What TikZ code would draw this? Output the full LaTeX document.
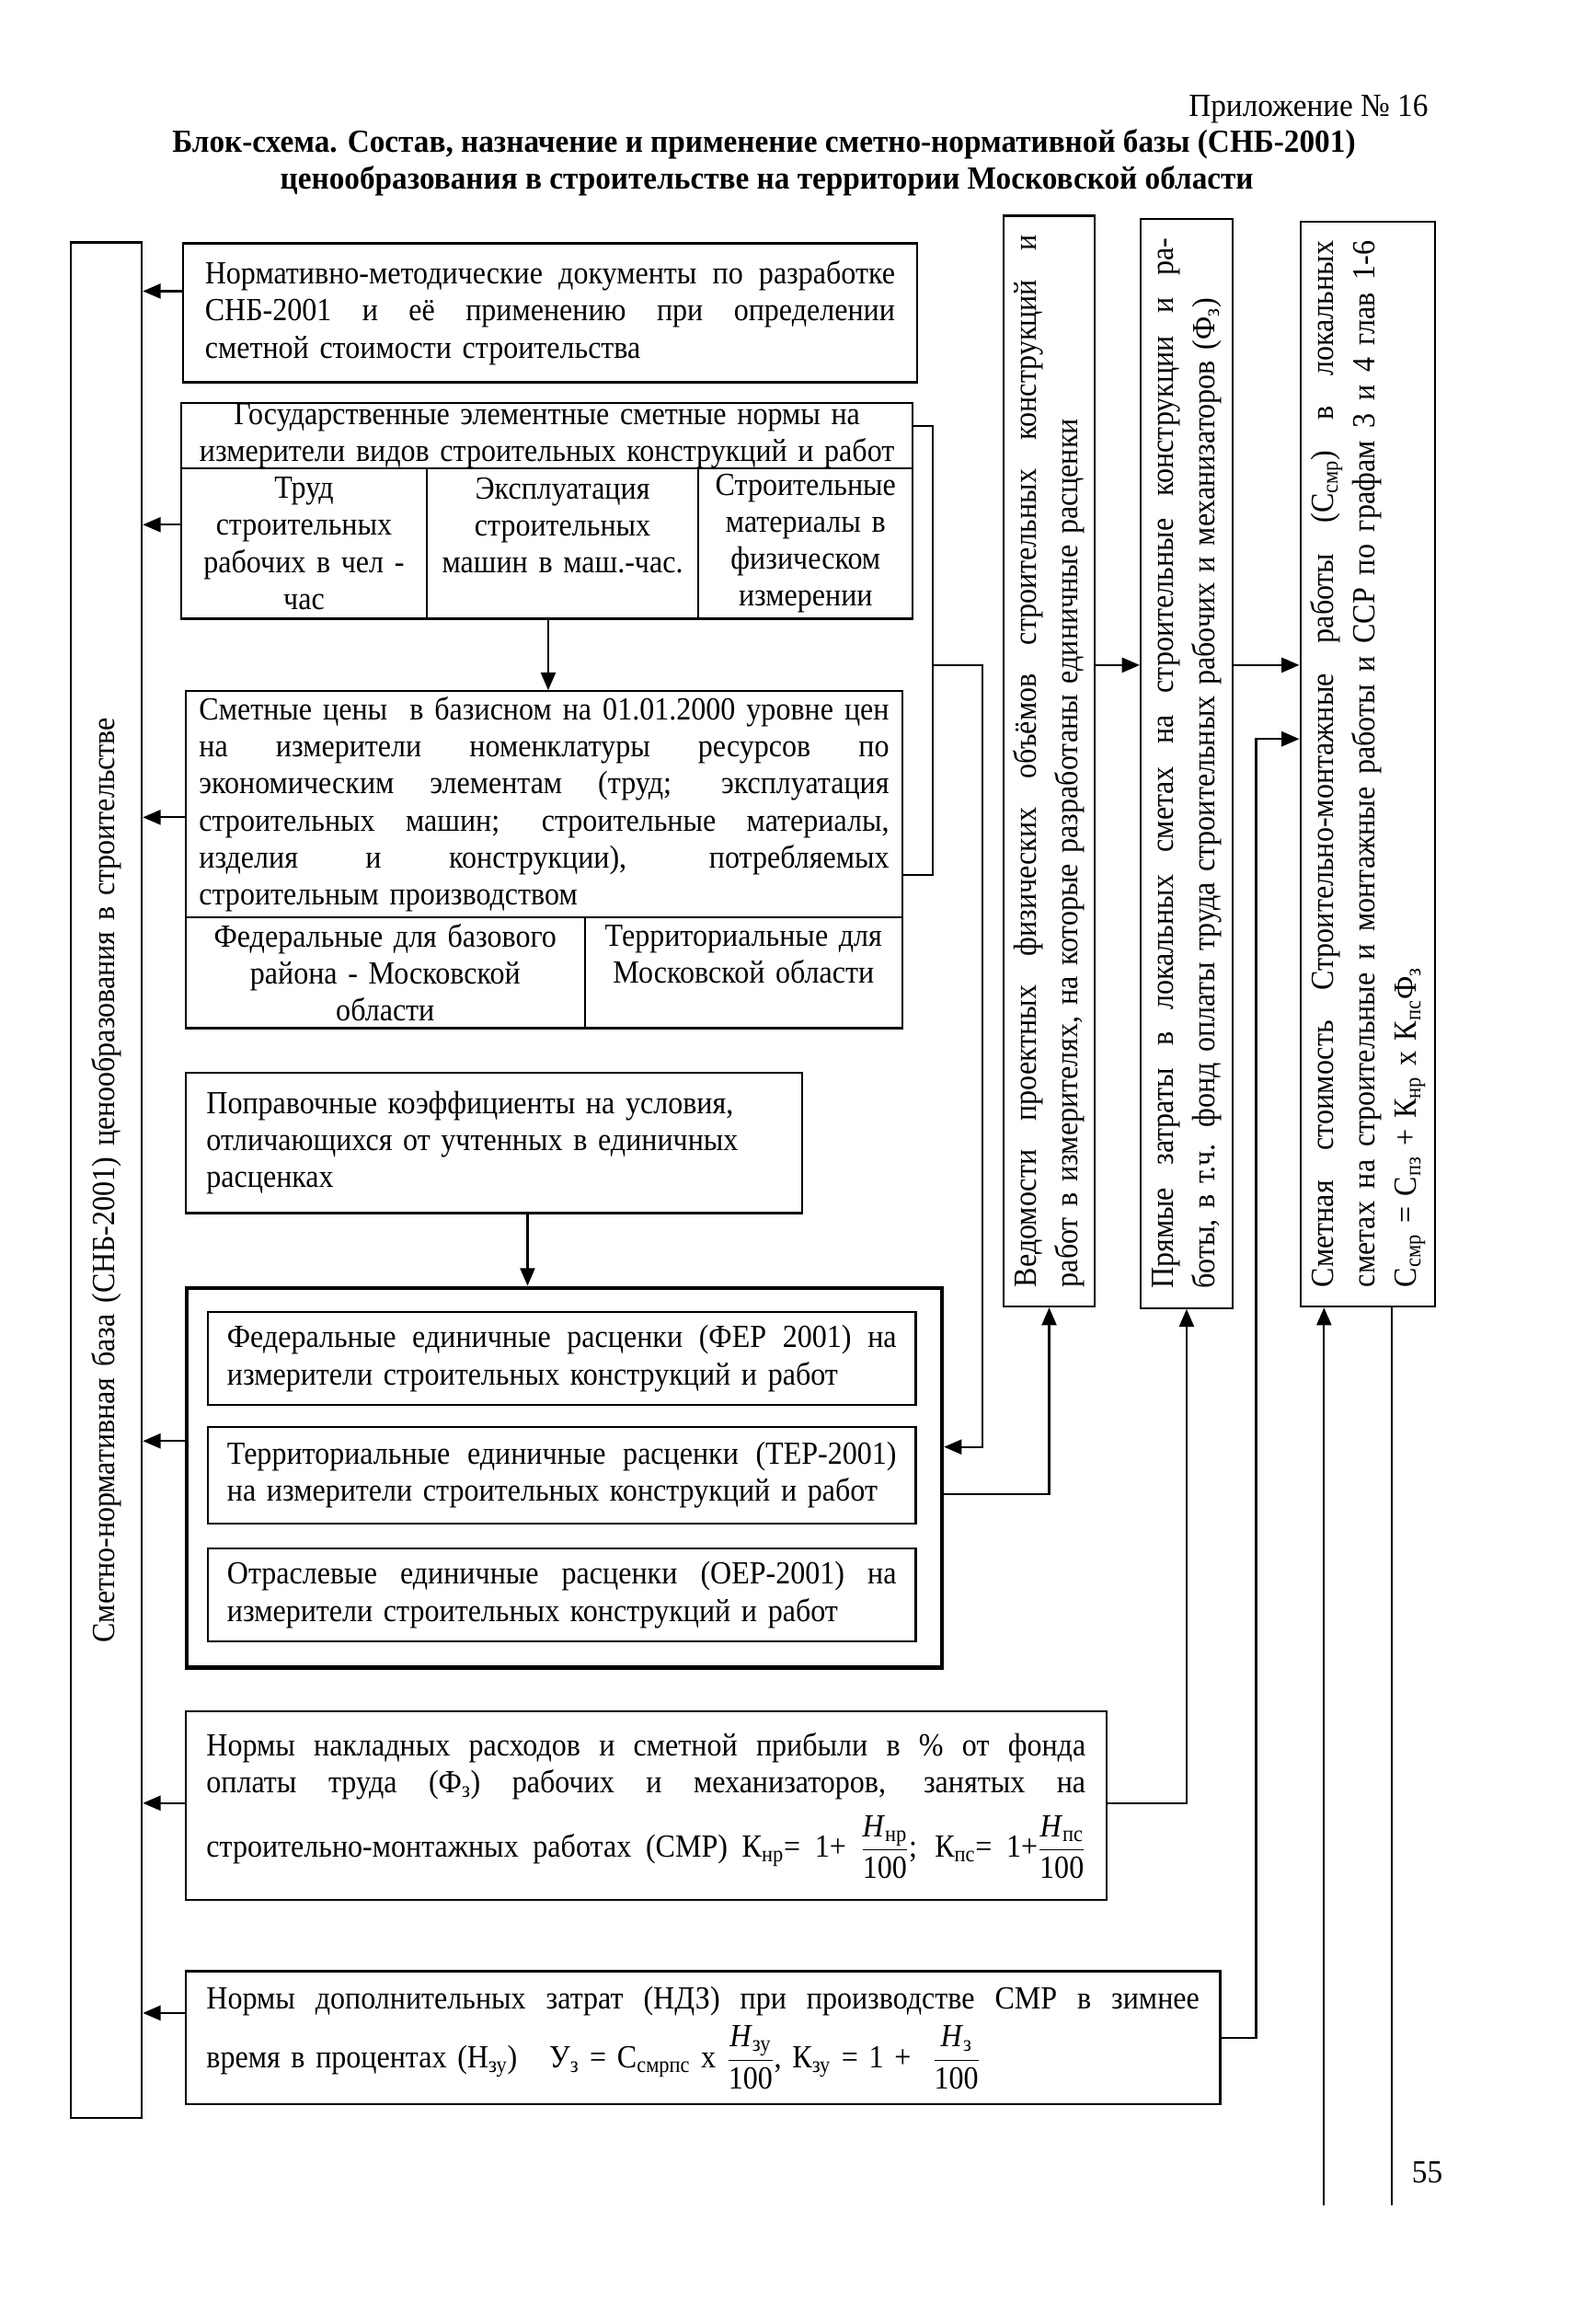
\documentclass[tikz,border=0pt]{standalone}
\usepackage{fontspec}
\setmainfont{Liberation Serif}[FakeStretch=0.915]
\newfontfamily\titlefont{Liberation Serif}[FakeStretch=0.95]
\usetikzlibrary{arrows.meta}
\newcommand{\tx}{\fontsize{21.8}{25}\selectfont}
\newcommand{\tc}{\fontsize{21.8}{28}\selectfont}
\newcommand{\jl}[2]{\leavevmode\hbox to #1{\spaceskip=0.25em plus 1fil\relax #2}}
\newcommand{\sbs}[1]{\textsubscript{#1}}
\newcommand{\fr}[2]{$\displaystyle\frac{\mbox{#1}}{\mbox{#2}}$}
\tikzset{
  ln/.style={line width=1.4pt},
  arr/.style={ln, -{Triangle[length=12pt,width=10pt]}},
  box/.style={draw, ln, anchor=north west, inner ysep=0pt, font=\tx, align=left},
  cbox/.style={box, align=center},
  col/.style={draw, ln, rotate=90, inner ysep=0pt, inner xsep=13pt, font=\tc, align=left},
}
\begin{document}
\begin{tikzpicture}[x=1pt,y=-1pt]
\useasboundingbox (0,0) rectangle (1080,1565);
\fill[white] (0,0) rectangle (1080,1565);

% header
\node[font=\tx\titlefont, anchor=base east] (app) at (970,79) {Приложение № 16};
\node[font=\tx\titlefont\bfseries, anchor=base] (t1) at (517,103) {Блок-схема. Состав, назначение и применение сметно-нормативной базы (СНБ-2001)};
\node[font=\tx\titlefont\bfseries, anchor=base] (t2) at (519,128) {ценообразования в строительстве на территории Московской области};

% left column
\node[col, align=center, text width=1243pt, minimum height=48pt, font=\tx] (L) at (72,798.5) {Сметно-нормативная база (СНБ-2001) ценообразования в строительстве};

% box 1
\node[box, text width=467pt, inner xsep=15pt, minimum height=94pt] (b1) at (123,164) {\jl{467pt}{Нормативно-методические документы по разработке}\\\jl{467pt}{СНБ-2001 и её применению при определении}\\сметной стоимости строительства};

% state norms
\node[cbox, text width=491pt, inner xsep=2pt, minimum height=44pt] (g0) at (122,272) {Государственные элементные сметные нормы на\\измерители видов строительных конструкций и работ};
\node[cbox, text width=156pt, inner xsep=5pt, minimum height=102pt] (c1) at (122,316) {Труд\\строительных\\рабочих в чел -\\час};
\node[cbox, text width=174pt, inner xsep=5pt, minimum height=102pt] (c2) at (288,316) {Эксплуатация\\строительных\\машин в маш.-час.\\\mbox{}};
\node[cbox, text width=135pt, inner xsep=5pt, minimum height=102pt] (c3) at (472,316) {Строительные\\материалы в\\физическом\\измерении};

% prices
\node[box, text width=467pt, inner xsep=9pt, minimum height=153pt] (s0) at (125,467) {\jl{467pt}{Сметные цены\ \ в базисном на 01.01.2000 уровне цен}\\\jl{467pt}{на измерители номенклатуры ресурсов по}\\\jl{467pt}{экономическим элементам (труд; эксплуатация}\\\jl{467pt}{строительных машин; строительные материалы,}\\\jl{467pt}{изделия и конструкции), потребляемых}\\строительным производством};
\node[cbox, text width=260pt, inner xsep=5pt, minimum height=75pt] (s1) at (125,620) {Федеральные для базового\\района - Московской\\области};
\node[cbox, text width=205pt, inner xsep=5pt, minimum height=75pt] (s2) at (395,620) {Территориальные для\\Московской области\\\mbox{}};

% correction coefficients
\node[box, text width=389pt, inner xsep=14pt, minimum height=95pt] (p) at (125,725) {Поправочные коэффициенты на условия,\\отличающихся от учтенных в единичных\\расценках};

% unit rates
\node[draw, line width=2.8pt, anchor=north west, inner sep=0pt, minimum width=511pt, minimum height=257pt] (B) at (125,870) {};
\node[box, text width=453pt, inner xsep=13pt, minimum height=63pt] (f1) at (140,887) {\jl{453pt}{Федеральные единичные расценки (ФЕР 2001) на}\\измерители строительных конструкций и работ};
\node[box, text width=453pt, inner xsep=13pt, minimum height=65pt] (f2) at (140,965) {\jl{453pt}{Территориальные единичные расценки (ТЕР-2001)}\\на измерители строительных конструкций и работ};
\node[box, text width=453pt, inner xsep=13pt, minimum height=63pt] (f3) at (140,1047) {\jl{453pt}{Отраслевые единичные расценки (ОЕР-2001) на}\\измерители строительных конструкций и работ};

% overheads
\node[box, text width=595pt, inner xsep=14pt, minimum height=128pt] (n1) at (125,1157) {\jl{595pt}{Нормы накладных расходов и сметной прибыли в \% от фонда}\\\jl{595pt}{оплаты труда (Ф\sbs{з}) рабочих и механизаторов, занятых на}\\[10pt]\jl{595pt}{строительно-монтажных работах (СМР) К\sbs{нр}= 1+ \fr{\textit{Н}\sbs{нр}}{100}; К\sbs{пс}= 1+\fr{\textit{Н}\sbs{пс}}{100}}};

% winter
\node[box, text width=672pt, inner xsep=14pt, minimum height=90pt] (n2) at (125,1333) {\jl{672pt}{Нормы дополнительных затрат (НДЗ) при производстве СМР в зимнее}\\[6pt]время в процентах (Н\sbs{зу})\quad У\sbs{з} = С\sbs{смрпс} х \fr{\textit{Н}\sbs{зу}}{100}, К\sbs{зу} = 1 + \ \fr{\textit{Н}\sbs{з}}{100}};

% right columns
\node[col, text width=712pt, minimum height=62pt] (cA) at (710,515) {\jl{712pt}{Ведомости проектных физических объёмов строительных конструкций и}\\работ в измерителях, на которые разработаны единичные расценки};
\node[col, text width=711pt, minimum height=62pt] (cB) at (803,516.5) {\jl{711pt}{Прямые затраты в локальных сметах на строительные конструкции и ра-}\\боты, в т.ч. фонд оплаты труда строительных рабочих и механизаторов (Ф\sbs{з})};
\node[col, text width=708pt, minimum height=91pt] (cC) at (925.5,517) {\jl{708pt}{Сметная стоимость Строительно-монтажные работы (С\sbs{смр}) в локальных}\\\jl{708pt}{сметах на строительные и монтажные работы и ССР по графам 3 и 4 глав 1-6}\\С\sbs{смр} = С\sbs{пз} + К\sbs{нр} х К\sbs{пс}Ф\sbs{з}};

% left arrows
\draw[arr] (b1.west |- 0,197) -- (L.south |- 0,197);
\draw[arr] (c1.west |- 0,355) -- (L.south |- 0,355);
\draw[arr] (s0.west |- 0,553) -- (L.south |- 0,553);
\draw[arr] (B.west |- 0,975) -- (L.south |- 0,975);
\draw[arr] (n1.west |- 0,1220) -- (L.south |- 0,1220);
\draw[arr] (n2.west |- 0,1362) -- (L.south |- 0,1362);

% down arrows
\draw[arr] (c2.south -| 371,0) -- (s0.north -| 371,0);
\draw[arr] (p.south -| 357,0) -- (B.north -| 357,0);

% bracket and link to unit rates
\draw[ln] (g0.east |- 0,288) -- (631,288) -- (631,592) -- (s0.east |- 0,592);
\coordinate (j1) at (631,450);
\draw[arr] (j1) -- (665,450) |- (B.east |- 0,979);

% links to columns
\draw[arr] (cA.south |- 0,450) -- (cB.north |- 0,450);
\draw[arr] (cB.south |- 0,450) -- (cC.north |- 0,450);
\draw[arr] (n2.east |- 0,1379) -- (850,1379) |- (cC.north |- 0,500);
\draw[arr] (n1.east |- 0,1220) -| (cB.west);
\draw[arr] (B.east |- 0,1011) -| (cA.west);
\coordinate (e1) at (896,1492);
\coordinate (e2) at (942,1492);
\draw[arr] (e1) -- (e1 |- cC.west);
\draw[ln] (cC.west -| e2) -- (e2);

\node[font=\tx\titlefont, anchor=base west] (pg) at (952,1477) {55};
\end{tikzpicture}
\end{document}
